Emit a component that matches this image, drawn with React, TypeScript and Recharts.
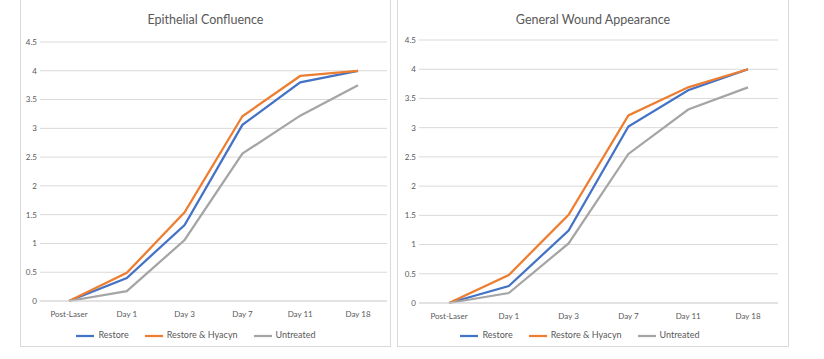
import { LineChart, Line, XAxis, YAxis, CartesianGrid, Legend } from "recharts";

const days = ["Post-Laser", "Day 1", "Day 3", "Day 7", "Day 11", "Day 18"];
const yTicks = [0, 0.5, 1, 1.5, 2, 2.5, 3, 3.5, 4, 4.5];

// Epithelial Confluence
const epiRestore = [0, 0.4, 1.32, 3.06, 3.8, 4.0];
const epiHyacyn = [0, 0.49, 1.54, 3.21, 3.91, 4.0];
const epiUntreated = [0, 0.17, 1.06, 2.56, 3.22, 3.75];

// General Wound Appearance
const gwaRestore = [0, 0.29, 1.24, 3.02, 3.64, 4.0];
const gwaHyacyn = [0, 0.48, 1.51, 3.21, 3.69, 4.0];
const gwaUntreated = [0, 0.17, 1.02, 2.55, 3.31, 3.69];

const FONT = "Lato, 'Open Sans', sans-serif";
const TEXT = "#595959";
const GRID = "#d9d9d9";

function rows(a: number[], b: number[], c: number[]) {
  return days.map((day, i) => ({ day, restore: a[i], hyacyn: b[i], untreated: c[i] }));
}

interface PanelProps {
  title: string;
  data: { day: string; restore: number; hyacyn: number; untreated: number }[];
  left: number;
  width: number;
  height: number;
  top: number;
  yWidth: number;
  right: number;
  xHeight: number;
  pad: number;
}

function Panel({ title, data, left, width, height, top, yWidth, right, xHeight, pad }: PanelProps) {
  return (
    <div
      style={{
        position: "absolute",
        left,
        top: 0,
        width,
        height,
        borderLeft: `1px solid ${GRID}`,
        borderRight: `1px solid ${GRID}`,
        borderBottom: `1px solid ${GRID}`,
        boxSizing: "border-box",
      }}
    >
      <div
        style={{
          position: "absolute",
          top: 12,
          width: "100%",
          textAlign: "center",
          fontFamily: FONT,
          fontSize: 12.5,
          color: TEXT,
        }}
      >
        {title}
      </div>
      <LineChart
        width={width - 2}
        height={height - 1}
        data={data}
        margin={{ top, right, bottom: 0, left: 0 }}
        style={{ fontFamily: FONT }}
      >
        <CartesianGrid vertical={false} stroke={GRID} />
        <XAxis
          dataKey="day"
          axisLine={{ stroke: GRID }}
          tickLine={false}
          height={xHeight}
          tickMargin={4}
          padding={{ left: pad, right: pad }}
          tick={{ fontSize: 8, fill: TEXT }}
          interval={0}
        />
        <YAxis
          domain={[0, 4.5]}
          ticks={yTicks}
          width={yWidth}
          axisLine={false}
          tickLine={false}
          tickSize={3}
          tickMargin={0}
          tick={{ fontSize: 8, fill: TEXT }}
        />
        <Legend
          verticalAlign="bottom"
          iconType="plainline"
          iconSize={18}
          wrapperStyle={{ height: 22, paddingTop: 3, boxSizing: "border-box", fontSize: 9 }}
          formatter={(v: string) => <span style={{ color: TEXT, marginRight: 6 }}>{v}</span>}
        />
        <Line dataKey="restore" name="Restore" stroke="#4472C4" strokeWidth={2.25} dot={false} isAnimationActive={false} />
        <Line dataKey="hyacyn" name="Restore & Hyacyn" stroke="#ED7D31" strokeWidth={2.25} dot={false} isAnimationActive={false} />
        <Line dataKey="untreated" name="Untreated" stroke="#A5A5A5" strokeWidth={2.25} dot={false} isAnimationActive={false} />
      </LineChart>
    </div>
  );
}

export default function App() {
  return (
    <div style={{ position: "absolute", left: 0, top: 0, width: 824, height: 359, background: "#fff", overflow: "hidden" }}>
      <Panel
        title="Epithelial Confluence"
        data={rows(epiRestore, epiHyacyn, epiUntreated)}
        left={20}
        width={371}
        height={347}
        top={42}
        yWidth={19}
        right={3}
        xHeight={23}
        pad={29}
      />
      <Panel
        title="General Wound Appearance"
        data={rows(gwaRestore, gwaHyacyn, gwaUntreated)}
        left={397}
        width={392}
        height={347}
        top={40}
        yWidth={21}
        right={10}
        xHeight={21}
        pad={30}
      />
    </div>
  );
}
